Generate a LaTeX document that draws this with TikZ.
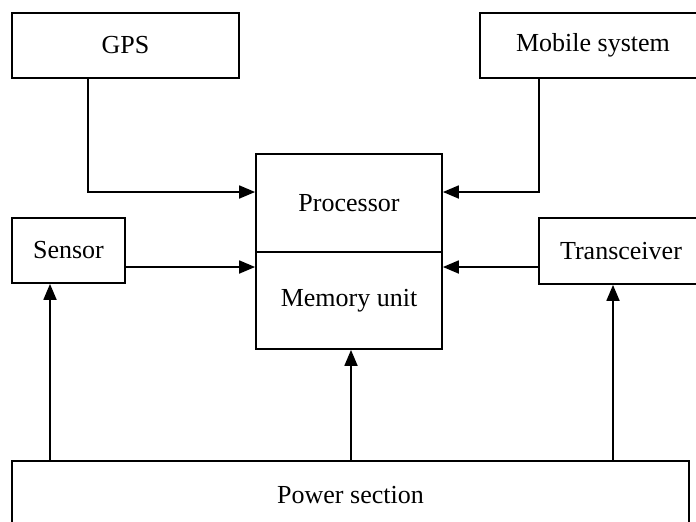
\documentclass[tikz,border=0pt]{standalone}
\usepackage{fontspec}
\setmainfont{Liberation Serif}
\usetikzlibrary{arrows.meta}
\begin{document}
\begin{tikzpicture}[x=0.5pt,y=-0.5pt,
  box/.style={draw,line width=0.9pt,inner sep=0pt,anchor=center,font=\fontsize{13}{15}\selectfont},
  conn/.style={line width=0.9pt,-{Triangle[length=8pt,width=6.5pt]}}]
\useasboundingbox (0,0) rectangle (696,521);
\clip (0,0) rectangle (696,521);
% boxes
\node[box,minimum width=113.5pt,minimum height=32.5pt] (gps) at (125.5,45.5) {GPS};
\node[box,minimum width=113pt,minimum height=32.5pt] (mob) at (593,45.5) {Mobile system};
\node[box,minimum width=93pt,minimum height=49pt] (proc) at (349,203) {Processor};
\node[box,minimum width=93pt,minimum height=48.5pt] (mem) at (349,300.5) {Memory unit};
\node[box,minimum width=56.5pt,minimum height=32.5pt] (sens) at (68.5,250.5) {Sensor};
\node[box,minimum width=82pt,minimum height=33pt] (trx) at (621,251) {Transceiver};
\node[box,minimum width=338.5pt,minimum height=34pt] (pow) at (350.5,495) {Power section};
% helper coordinates
\coordinate (gx) at (88,0);
\coordinate (mx) at (539,0);
\coordinate (r1) at (0,192);
\coordinate (r2) at (0,267);
\coordinate (c1) at (50,0);
\coordinate (c2) at (351,0);
\coordinate (c3) at (613,0);
% connectors
\draw[conn] (gps.south -| gx) |- (proc.west |- r1);
\draw[conn] (mob.south -| mx) |- (proc.east |- r1);
\draw[conn] (sens.east |- r2) -- (mem.west |- r2);
\draw[conn] (trx.west |- r2) -- (mem.east |- r2);
\draw[conn] (pow.north -| c1) -- (sens.south -| c1);
\draw[conn] (pow.north -| c2) -- (mem.south -| c2);
\draw[conn] (pow.north -| c3) -- (trx.south -| c3);
\end{tikzpicture}
\end{document}
